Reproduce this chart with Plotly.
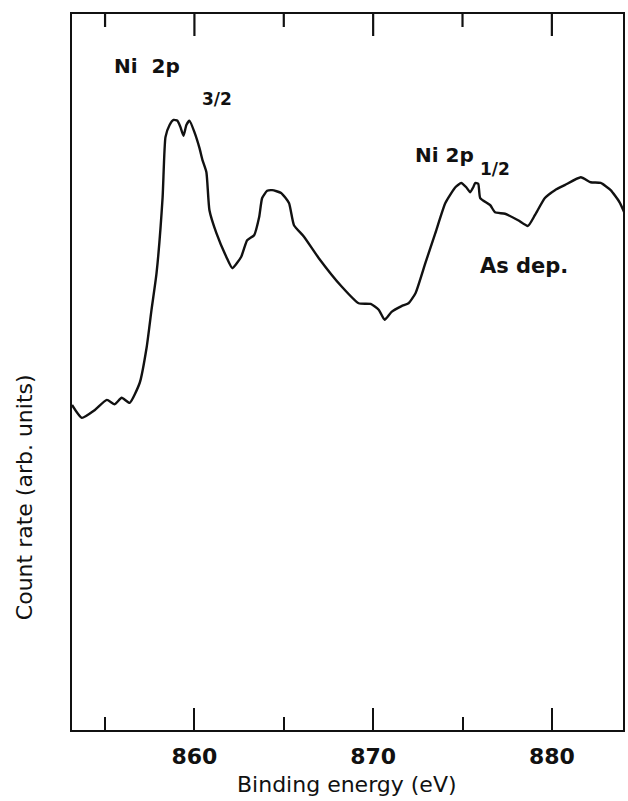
import plotly.graph_objects as go

# Binding energy (eV) and count rate (arb. units)
energy = [853.15, 853.70, 854.43, 855.10, 855.54, 855.93, 856.38, 856.94, 857.33, 857.60,
          857.88, 858.22, 858.38, 858.61, 858.83, 859.05, 859.22, 859.39, 859.55, 859.72,
          860.00, 860.28, 860.45, 860.67, 860.84, 861.23, 861.78, 862.12, 862.62, 862.95,
          863.34, 863.62, 863.79, 864.07, 864.35, 864.85, 865.29, 865.57, 866.13, 866.96,
          868.25, 869.19, 869.86, 870.31, 870.64, 871.03, 871.59, 871.98, 872.37, 872.92,
          873.48, 874.04, 874.60, 874.93, 875.21, 875.43, 875.60, 875.71, 875.88, 875.99,
          876.55, 876.82, 877.38, 878.11, 878.66, 879.05, 879.61, 880.17, 880.72, 881.62,
          882.17, 882.73, 883.29, 883.79, 884.12]
counts = [45.4, 43.6, 44.7, 46.1, 45.5, 46.4, 45.7, 48.5, 53.5, 58.7,
          63.8, 74.4, 82.8, 84.5, 85.2, 85.1, 84.2, 83.0, 84.5, 85.1,
          83.5, 81.3, 79.6, 77.9, 72.6, 69.4, 66.1, 64.5, 66.1, 68.4,
          69.1, 71.6, 74.3, 75.3, 75.4, 75.0, 73.6, 70.5, 68.9, 65.9,
          61.9, 59.6, 59.5, 58.7, 57.3, 58.4, 59.2, 59.6, 61.0, 65.2,
          69.4, 73.6, 75.8, 76.4, 75.8, 75.1, 75.8, 76.4, 76.3, 74.3,
          73.3, 72.3, 72.1, 71.2, 70.4, 71.9, 74.3, 75.4, 76.1, 77.2,
          76.5, 76.4, 75.4, 73.7, 71.9]

major_ticks = [860, 870, 880]
major_labels = ["860", "870", "880"]
minor_ticks = [855, 865, 875]

FONT = "DejaVu Sans"
INK = "#111111"
X_RANGE = [853.15, 883.98]
MAJOR_LEN, MINOR_LEN = 22, 13
PLOT_H = 801 - 14 - 71  # plot-area height in pixels

fig = go.Figure()
fig.add_trace(go.Scatter(
    x=energy, y=counts, mode="lines",
    line=dict(color=INK, width=2.4, shape="spline", smoothing=0.5),
    hoverinfo="skip", showlegend=False,
))

fig.update_layout(
    width=628, height=801,
    margin=dict(l=72, r=3, t=14, b=71),
    paper_bgcolor="white", plot_bgcolor="white",
    showlegend=False,
    font=dict(family=FONT, color=INK),
    xaxis=dict(
        range=X_RANGE,
        showgrid=False, zeroline=False,
        showline=True, linecolor=INK, linewidth=2, mirror=True,
        ticks="inside", ticklen=MAJOR_LEN, tickwidth=2, tickcolor=INK,
        tickvals=major_ticks, ticktext=major_labels,
        tickfont=dict(family=FONT, size=22, color=INK, weight="bold"),
        ticklabelstandoff=6,
        minor=dict(tickvals=minor_ticks, ticks="inside", ticklen=MINOR_LEN,
                   tickwidth=2, tickcolor=INK, showgrid=False),
    ),
    yaxis=dict(range=[0, 100], showgrid=False, zeroline=False,
               showline=True, linecolor=INK, linewidth=2, mirror=True,
               ticks="", showticklabels=False),
)

# tick marks hanging from the top edge of the frame (same positions as the bottom axis)
for vals, length in [(major_ticks, MAJOR_LEN), (minor_ticks, MINOR_LEN)]:
    for v in vals:
        fig.add_shape(type="line", xref="x", yref="paper",
                      x0=v, x1=v, y0=1.0, y1=1.0 - length / PLOT_H,
                      line=dict(color=INK, width=2.2), layer="above")

def px(xp, yp):
    return (xp - 72) / 553.0, (730 - yp) / 716.0

annots = []
# axis titles
x0, y0 = px(348, 784)
annots.append(dict(text="Binding energy (eV)", x=x0, y=y0, xref="paper", yref="paper",
                   showarrow=False, font=dict(size=22, family=FONT, color=INK),
                   xanchor="center", yanchor="middle"))
x0, y0 = px(24, 497)
annots.append(dict(text="Count rate (arb. units)", x=x0, y=y0, xref="paper", yref="paper",
                   showarrow=False, textangle=-90,
                   font=dict(size=22, family=FONT, color=INK),
                   xanchor="center", yanchor="middle"))
# peak labels
for text, xp, yp, size in [("Ni  2p", 112, 66, 20), ("3/2", 200, 99, 17),
                           ("Ni 2p", 414, 155, 20), ("1/2", 479, 169, 17),
                           ("As dep.", 479, 266, 21)]:
    x0, y0 = px(xp, yp)
    annots.append(dict(text=text, x=x0, y=y0, xref="paper", yref="paper",
                       showarrow=False,
                       font=dict(size=size, family=FONT, color=INK, weight="bold"),
                       xanchor="left", yanchor="middle"))
fig.update_layout(annotations=annots)

fig.write_html("out.html")
